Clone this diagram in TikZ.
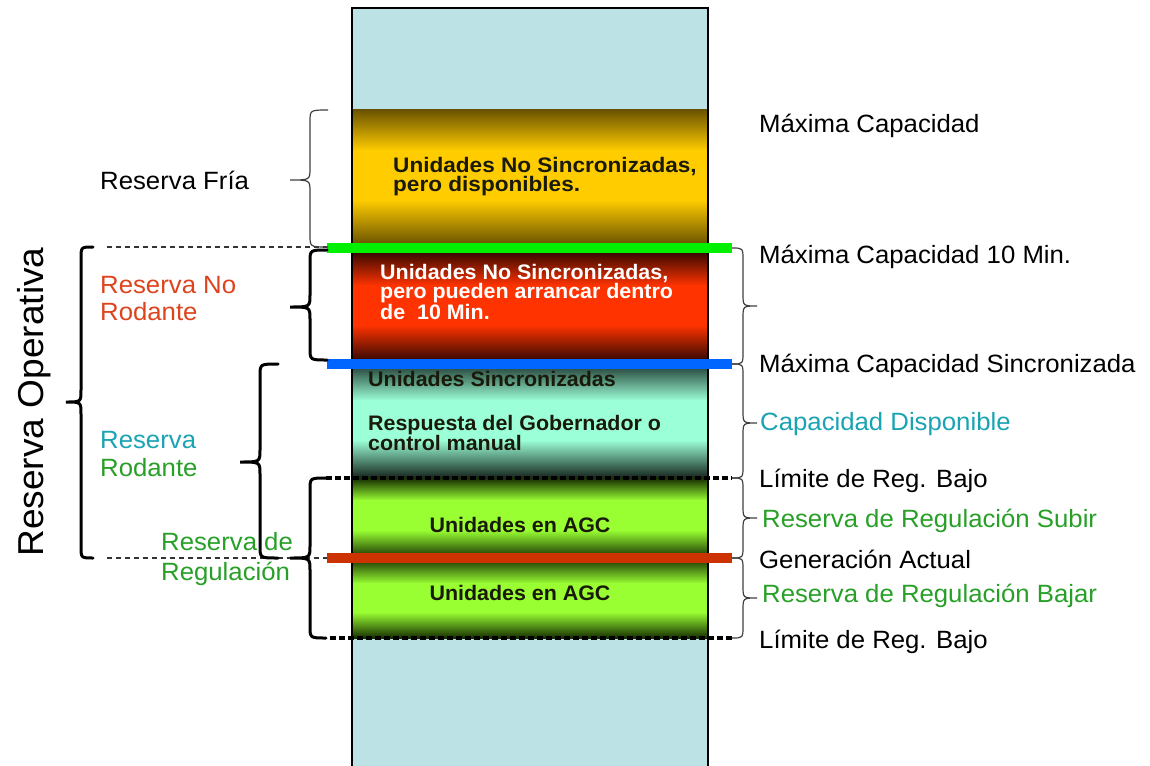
\documentclass[tikz,border=0pt]{standalone}
\usepackage{fontspec}
\setmainfont{Liberation Sans}
\newfontfamily\lblfont{Liberation Sans}[FakeStretch=1.03]
\newfontfamily\barfont{Liberation Sans}[FakeStretch=1.02]
\newfontfamily\barwide{Liberation Sans}[FakeStretch=1.075]
\definecolor{colbg}{RGB}{189,226,229}
\definecolor{txtred}{RGB}{221,68,30}
\definecolor{txtteal}{RGB}{26,163,179}
\definecolor{txtgreen}{RGB}{40,160,40}
\definecolor{linegreen}{RGB}{0,240,0}
\definecolor{lineblue}{RGB}{0,102,255}
\definecolor{linered}{RGB}{204,51,0}
\definecolor{ordark}{RGB}{107,84,0}
\definecolor{ormid}{RGB}{255,204,0}
\definecolor{rddark}{RGB}{55,8,0}
\definecolor{rdmid}{RGB}{255,51,0}
\definecolor{tldarktop}{RGB}{45,80,68}
\definecolor{tlmid}{RGB}{155,255,215}
\definecolor{tldarkbot}{RGB}{20,35,28}
\definecolor{grdark}{RGB}{22,45,0}
\definecolor{grmid}{RGB}{153,255,51}
\definecolor{txtdark}{RGB}{26,26,10}
\tikzset{
  lbl/.style={anchor=base west, inner sep=0pt, font=\lblfont\fontsize{25}{28}\selectfont},
  bartxt/.style={anchor=base west, inner sep=0pt, font=\barfont\bfseries\fontsize{21}{22}\selectfont},
  barwidetxt/.style={bartxt, font=\barwide\bfseries\fontsize{21}{22}\selectfont},
  thinbrace/.style={draw=black!75, line width=1.2pt},
  thickbrace/.style={draw=black, line width=3pt, line cap=round},
  guide/.style={draw=black!80, line width=1.2pt, dash pattern=on 5pt off 4pt},
  levelline/.style={line width=10pt},
  dotlevel/.style={draw=black, line width=4pt, dash pattern=on 6pt off 3pt},
}
% style, E, V, T, Ytop, Ytip, Ybottom
\newcommand{\drawbrace}[7]{%
  \draw[#1] (#2,#5) .. controls (#3,#5) .. (#3,#5+12) -- (#3,#6-12)
    .. controls (#3,#6) .. (#4,#6) .. controls (#3,#6) .. (#3,#6+12)
    -- (#3,#7-12) .. controls (#3,#7) .. (#2,#7);}
% y1 y2 y3 y4 topcolor mid bottomcolor
\newcommand{\bandshade}[7]{%
  \shade[top color=#5, bottom color=#6] (352,#1) rectangle (708,#2+0.6);
  \fill[#6] (352,#2) rectangle (708,#3+0.6);
  \shade[top color=#6, bottom color=#7] (352,#3) rectangle (708,#4);}
\begin{document}
\begin{tikzpicture}[x=1pt,y=-1pt]
\useasboundingbox (0,0) rectangle (1150,765);
\fill[white] (0,0) rectangle (1150,765);
% column
\fill[colbg] (352,8) rectangle (708,770);
\bandshade{110}{150}{200}{244}{ordark}{ormid}{ordark}
\bandshade{252}{285}{325}{360}{rddark}{rdmid}{rddark}
\bandshade{368}{400}{440}{478}{tldarktop}{tlmid}{tldarkbot}
\bandshade{478}{500}{530}{558}{grdark}{grmid}{grdark}
\bandshade{558}{583}{612}{638}{grdark}{grmid}{grdark}
\draw[line width=1.2pt] (352,770) -- (352,8) -- (708,8) -- (708,770);
% level lines
\draw[levelline, linegreen] (327,248) -- (732,248);
\draw[levelline, lineblue] (327,364) -- (732,364);
\draw[levelline, linered] (327,558) -- (732,558);
\draw[dotlevel] (326,478) -- (732,478);
\draw[dotlevel] (330,638) -- (732,638);
% guides
\draw[guide] (107,247) -- (327,247);
\draw[guide] (107,558) -- (327,558);
% right braces
\drawbrace{thinbrace}{732}{743}{757}{248}{306}{364}
\drawbrace{thinbrace}{732}{743}{757}{364}{423}{478}
\drawbrace{thinbrace}{732}{743}{757}{478}{518}{558}
\drawbrace{thinbrace}{732}{743}{757}{558}{598}{638}
% left braces
\drawbrace{thinbrace}{328}{310}{290}{110}{180}{247}
\drawbrace{thickbrace}{327}{310}{290}{250}{307}{360}
\drawbrace{thickbrace}{278}{260}{240}{364}{462}{558}
\drawbrace{thickbrace}{326}{310}{290}{478}{558}{638}
\drawbrace{thickbrace}{93}{81}{66}{247}{402}{558}
% bar texts
\node[barwidetxt, text=txtdark] (o1) at (393,172) {Unidades No Sincronizadas,};
\node[barwidetxt, text=txtdark] (o2) at (393,191) {pero disponibles.};
\node[bartxt, text=white] (r1) at (380,279) {Unidades No Sincronizadas,};
\node[bartxt, text=white] (r2) at (380,298) {pero pueden arrancar dentro};
\node[bartxt, text=white] (r3) at (380,319) {de \ 10 Min.};
\node[bartxt, text=txtdark] (t1) at (368,386) {Unidades Sincronizadas};
\node[bartxt, text=txtdark] (t2) at (368,430) {Respuesta del Gobernador o};
\node[bartxt, text=txtdark] (t3) at (368,450) {control manual};
\node[bartxt, text=txtdark, anchor=base] (g1) at (520,532) {Unidades en AGC};
\node[bartxt, text=txtdark, anchor=base] (g2) at (520,600) {Unidades en AGC};
% right labels
\node[lbl] (mc) at (759,132) {Máxima Capacidad};
\node[lbl] (mc10) at (759,263) {Máxima Capacidad 10 Min.};
\node[lbl] (mcs) at (759,372) {Máxima Capacidad Sincronizada};
\node[lbl, text=txtteal] (cd) at (760,430) {Capacidad Disponible};
\node[lbl] (lrb1) at (759,487) {Límite de Reg. Bajo};
\node[lbl, text=txtgreen] (rrs) at (762,527) {Reserva de Regulación Subir};
\node[lbl] (ga) at (759,568) {Generación Actual};
\node[lbl, text=txtgreen] (rrb) at (762,602) {Reserva de Regulación Bajar};
\node[lbl] (lrb2) at (759,648) {Límite de Reg. Bajo};
% left labels
\node[lbl] (rf) at (100,189) {Reserva Fría};
\node[lbl, text=txtred] (rnr1) at (100,293) {Reserva No};
\node[lbl, text=txtred] (rnr2) at (100,320) {Rodante};
\node[lbl, text=txtteal] (rr1) at (100,448) {Reserva};
\node[lbl, text=txtgreen] (rr2) at (100,476) {Rodante};
\node[lbl, text=txtgreen] (rg1) at (161,550) {Reserva de};
\node[lbl, text=txtgreen] (rg2) at (161,580) {Regulación};
\node[anchor=base, rotate=90, inner sep=0pt, font=\lblfont\fontsize{36}{40}\selectfont] (ro) at (43,402) {Reserva Operativa};
\end{tikzpicture}
\end{document}
